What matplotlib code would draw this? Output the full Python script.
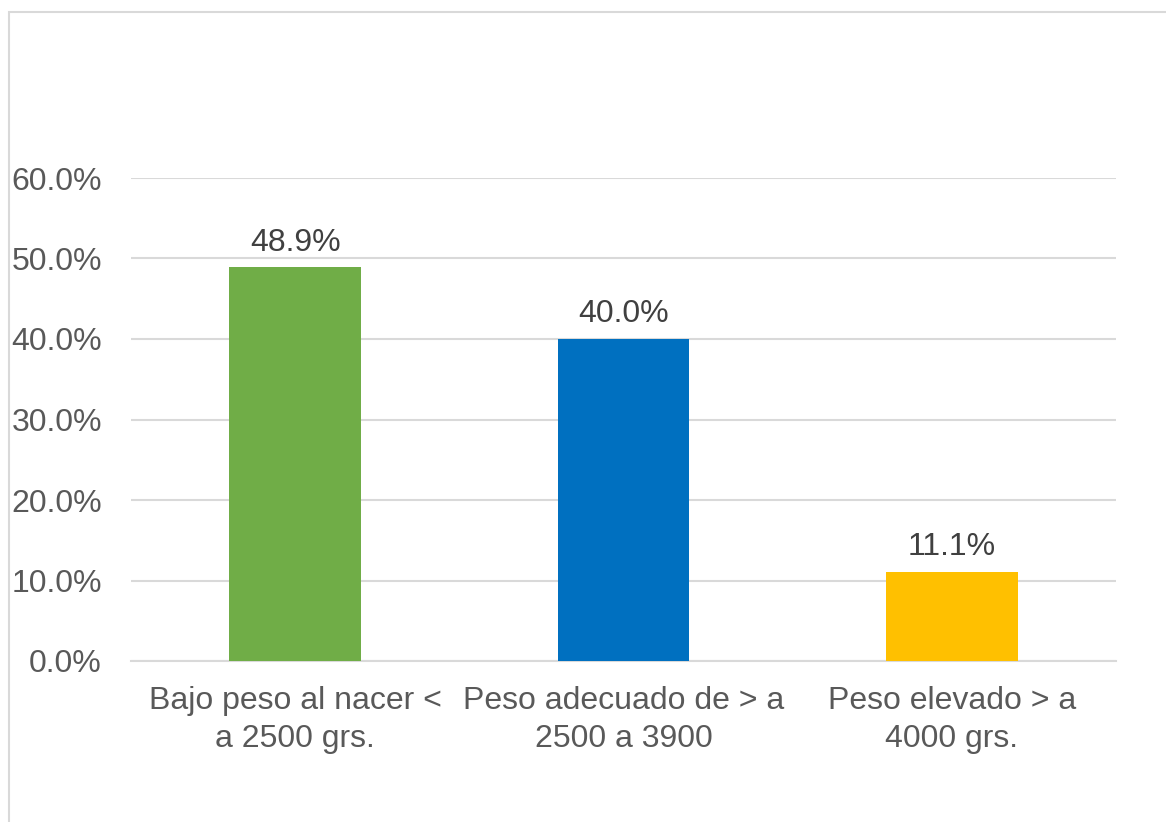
import matplotlib
matplotlib.use("Agg")
import matplotlib.pyplot as plt
from matplotlib.patches import Rectangle
from matplotlib.ticker import PercentFormatter

categories = ["Bajo peso al nacer <\na 2500 grs.",
              "Peso adecuado de > a\n2500 a 3900",
              "Peso elevado > a\n4000 grs."]
values = [0.489, 0.400, 0.111]
labels = ["48.9%", "40.0%", "11.1%"]
colors = ["#70AD47", "#0070C0", "#FFC000"]

plt.rcParams["font.family"] = ["Liberation Sans", "DejaVu Sans"]

W, H = 1166, 822
fig = plt.figure(figsize=(W / 100, H / 100), dpi=100)
ax = fig.add_axes([131 / W, 1 - 661 / H, 985 / W, (661 - 178) / H])

x = range(len(categories))
ax.bar(x, values, width=0.40, color=colors, zorder=3)
for i, v in enumerate(values):
    ax.annotate(labels[i], (i, v), xytext=(0, 7), textcoords="offset points",
                ha="center", va="bottom", fontsize=23, color="#404040")

ax.set_xlim(-0.5, 2.5)
ax.set_ylim(0, 0.6)
ax.set_yticks([0, 0.1, 0.2, 0.3, 0.4, 0.5, 0.6])
ax.yaxis.set_major_formatter(PercentFormatter(1.0, decimals=1))
ax.set_xticks(list(x))
ax.set_xticklabels(categories, fontsize=23, color="#595959", linespacing=1.35)
ax.tick_params(axis="y", labelsize=23, labelcolor="#595959", length=0, pad=21)
ax.tick_params(axis="x", length=0, pad=18)
ax.grid(axis="y", color="#D9D9D9", linewidth=1.5, zorder=0)
for s in ["top", "right", "left"]:
    ax.spines[s].set_visible(False)
ax.spines["bottom"].set_color("#D9D9D9")
ax.spines["bottom"].set_linewidth(1.5)

fig.patches.append(Rectangle((8.5 / W, -0.1), 1.2, 1 - 12.5 / H + 0.1,
                             transform=fig.transFigure, fill=False,
                             edgecolor="#D9D9D9", linewidth=1.5))

fig.savefig("out.png", dpi=100)
